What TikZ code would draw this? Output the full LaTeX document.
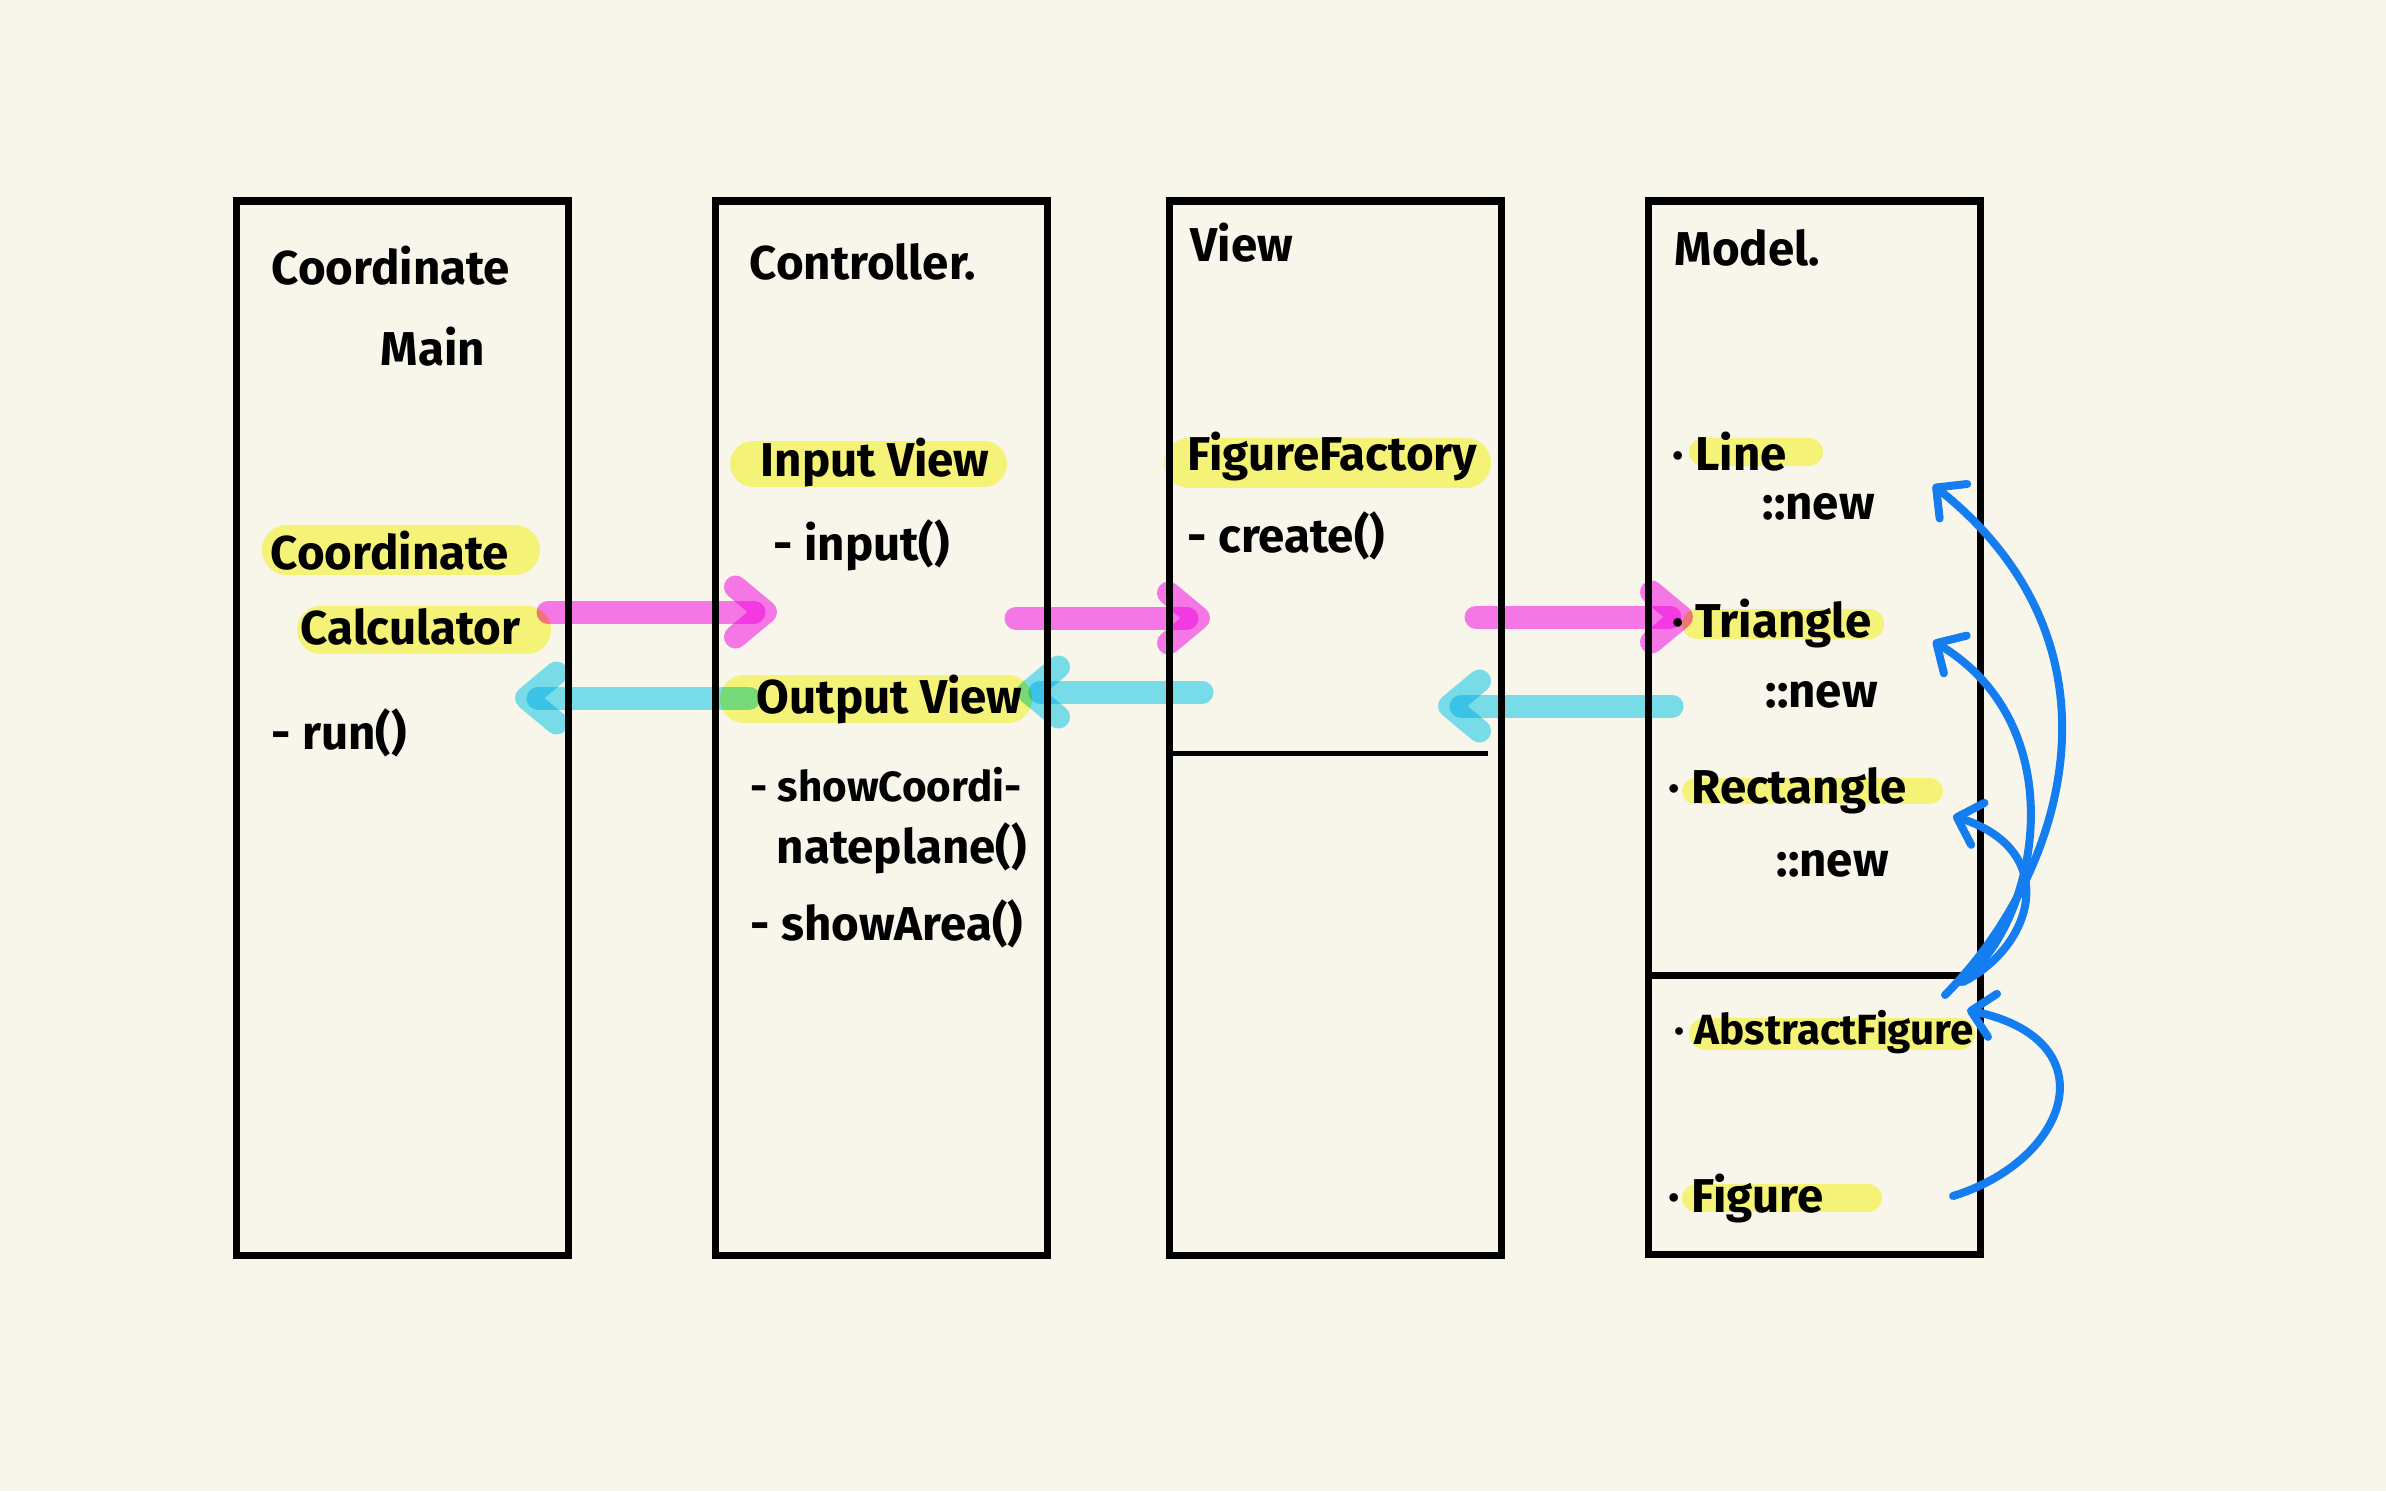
\documentclass[tikz,border=0pt]{standalone}
\usepackage{fontspec}
\setmainfont{Fira Sans}
\usetikzlibrary{arrows.meta}

\definecolor{paper}{RGB}{248,246,234}
\definecolor{marker}{RGB}{252,251,131}
\definecolor{pinkpen}{RGB}{252,124,251}
\definecolor{cyanpen}{RGB}{123,228,253}
\definecolor{bluepen}{RGB}{20,125,240}

\begin{document}
\begin{tikzpicture}[x=0.01cm,y=-0.01cm,
    hand/.style={anchor=west,inner sep=0pt,font=\fontsize{13.5}{16}\selectfont\bfseries},
    small hand/.style={hand,font=\fontsize{12}{14}\selectfont\bfseries},
    column/.style={draw=black,line width=0.07cm,anchor=north west,inner sep=0pt,outer sep=0pt,
      minimum width=3.32cm,minimum height=10.54cm},
    hl/.style={draw=marker,line width=#1,line cap=round},
    flow/.style={line width=0.23cm,line cap=round,
      -{Straight Barb[length=0.3cm,width=0.5cm,round]}},
    link/.style={bluepen,line width=0.08cm,line cap=round,
      -{Straight Barb[length=0.22cm,width=0.44cm,round]}}]

    %paper and page size
    \fill[paper] (0,0) rectangle (2386,1491);
    \useasboundingbox (0,0) rectangle (2386,1491);

    %marker strokes behind the names
    \begin{scope}[blend mode=multiply]
      \foreach \xa/\xb/\y/\h in {287/515/550/0.50cm, 321/527/630/0.48cm,
          753/984/464/0.46cm, 744/1008/699/0.48cm, 1189/1466/463/0.50cm,
          1703/1809/452/0.28cm, 1697/1869/624/0.30cm, 1695/1930/791/0.26cm,
          1705/1959/1034/0.32cm, 1696/1868/1198/0.28cm} {
        \draw[hl=\h] (\xa,\y) -- (\xb,\y);
      }
    \end{scope}

    %columns
    \node[column] (mainbox) at (236,201) {};
    \node[column] (ctrlbox) at (715,201) {};
    \node[column] (viewbox) at (1169,201) {};
    \node[column,minimum height=10.53cm] (modelbox) at (1648,201) {};
    \draw[line width=0.05cm] (1169,753) -- (1488,753);
    \draw[line width=0.07cm] (1648,975) -- (1980,975);

    %Coordinate Main
    \node[hand] (cmTitle) at (271,266) {Coordinate};
    \node[hand] (cmMain) at (380,347) {Main};
    \node[hand] (calcA) at (270,551) {Coordinate};
    \node[hand] (calcB) at (300,627) {Calculator};
    \node[hand] (runM) at (271,733) {- run()};

    %Controller
    \node[hand] (ctrlTitle) at (749,262) {Controller.};
    \node[hand] (inView) at (760,463) {Input View};
    \node[hand] (inputM) at (773,545) {- input()};
    \node[hand] (outView) at (756,700) {Output View};
    \node[small hand] (showA) at (750,785) {- showCoordi-};
    \node[hand] (showB) at (776,848) {nateplane()};
    \node[hand] (showC) at (750,924) {- showArea()};

    %View
    \node[hand] (viewTitle) at (1190,243) {View};
    \node[hand] (factory) at (1187,457) {FigureFactory};
    \node[hand] (createM) at (1187,536) {- create()};

    %Model
    \node[hand] (modelTitle) at (1674,248) {Model.};
    \node[hand] (line) at (1672,452) {· Line};
    \node[hand] (lineNew) at (1762,507) {::new};
    \node[hand] (tri) at (1672,624) {· Triangle};
    \node[hand] (triNew) at (1765,695) {::new};
    \node[hand] (rect) at (1668,791) {· Rectangle};
    \node[hand] (rectNew) at (1776,864) {::new};
    \node[small hand] (absFig) at (1674,1032) {· AbstractFigure};
    \node[hand] (fig) at (1668,1198) {· Figure};

    %ends of the calls between columns
    \coordinate (calcOut) at (548,612);
    \coordinate (inViewIn) at (777,612);
    \coordinate (inViewOut) at (1016,618);
    \coordinate (factoryIn) at (1210,618);
    \coordinate (factoryOut) at (1476,617);
    \coordinate (triIn) at (1693,617);
    \coordinate (outViewOut) at (749,698);
    \coordinate (calcIn) at (515,698);
    \coordinate (viewOut) at (1202,692);
    \coordinate (outViewIn) at (1017,692);
    \coordinate (modelOut) at (1672,706);
    \coordinate (viewIn) at (1438,706);

    \begin{scope}[blend mode=multiply]
      \draw[flow,pinkpen] (calcOut) -- (inViewIn);
      \draw[flow,pinkpen] (inViewOut) -- (factoryIn);
      \draw[flow,pinkpen] (factoryOut) -- (triIn);
      \draw[flow,cyanpen] (outViewOut) -- (calcIn);
      \draw[flow,cyanpen] (viewOut) -- (outViewIn);
      \draw[flow,cyanpen] (modelOut) -- (viewIn);
    \end{scope}

    %inheritance arrows
    \coordinate (lineTip) at (1933,485);
    \coordinate (triTip) at (1933,641);
    \coordinate (rectTip) at (1953,816);
    \coordinate (absTip) at (1967,1010);
    \coordinate (absOutA) at (1945,995);
    \coordinate (absOutB) at (1960,982);
    \coordinate (absOutC) at (1963,982);
    \coordinate (figOut) at (1953,1196);

    \draw[link] (absOutA) .. controls (2060,880) and (2140,650) .. (lineTip);
    \draw[link] (absOutB) .. controls (2035,930) and (2080,730) .. (triTip);
    \draw[link] (absOutC) .. controls (2035,945) and (2060,850) .. (rectTip);
    \draw[link] (figOut) .. controls (2070,1160) and (2110,1040) .. (absTip);
\end{tikzpicture}
\end{document}
